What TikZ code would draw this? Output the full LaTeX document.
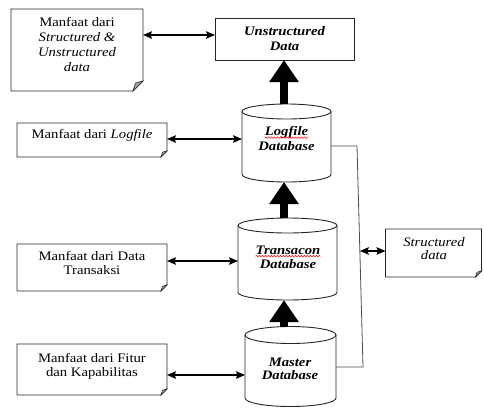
\documentclass[tikz,border=0pt]{standalone}
\usepackage{fontspec}
\setmainfont{Liberation Serif}[FakeStretch=1.13]
\usetikzlibrary{arrows.meta,calc,decorations.pathmorphing}

\tikzset{
  frame/.style={draw=none, inner sep=0pt, outer sep=0pt},
  outline/.style={draw=black!85, line width=0.9pt},
  txt/.style={font=\fontsize{13}{14}\selectfont, align=center, inner sep=0pt},
  dbtxt/.style={font=\fontsize{13}{15}\selectfont\bfseries\itshape, inner sep=0pt},
  link/.style={line width=1.3pt, {Stealth[length=9pt,width=7.5pt,inset=1.5pt]}-{Stealth[length=9pt,width=7.5pt,inset=1.5pt]}},
  bigarrow/.style={line width=8pt, -{Triangle[length=22pt,width=28pt]}},
  spell/.style={red, line width=0.5pt, decorate, decoration={snake, amplitude=0.8pt, segment length=3pt}},
  feeder/.style={draw=black!70, line width=0.8pt}
}

\newcommand\cylout[3]{%
  \draw[outline] ($(#1.north)+(0,#3)$) ellipse [x radius=#2pt, y radius=#3pt];
  \draw[outline] ($(#1.north west)+(0,#3)$) -- ($(#1.south west)+(0,-#3)$)
     arc[start angle=180, end angle=360, x radius=#2pt, y radius=#3pt]
     -- ($(#1.north east)+(0,#3)$);
}
\newcommand\foldout[2]{%
  \draw[outline] (#1.north west) -- (#1.north east) -- ($(#1.south east)+(0,-#2)$)
     -- ($(#1.south east)+(-#2,0)$) -- (#1.south west) -- cycle;
  \filldraw[fill=gray!70, draw=black!85, line width=0.6pt] ($(#1.south east)+(0,-#2)$)
     -- ($(#1.south east)+(-#2,0)$) -- ($(#1.south east)+(-0.75*#2,-0.8*#2)$) -- cycle;
}

\begin{document}
\begin{tikzpicture}[x=1pt,y=-1pt]
\useasboundingbox (0,0) rectangle (484,408);

% ---------- frames ----------
\node[frame, minimum width=132pt, minimum height=82pt] (nA) at (77,50) {};
\node[frame, minimum width=150pt, minimum height=34pt] (nB) at (92,140) {};
\node[frame, minimum width=150pt, minimum height=47pt] (nC) at (92,267.5) {};
\node[frame, minimum width=150pt, minimum height=51pt] (nD) at (92,369.5) {};
\node[frame, minimum width=139pt, minimum height=42pt] (un) at (284.5,39) {};
\node[frame, minimum width=96pt, minimum height=48pt] (st) at (433.5,253) {};

\node[frame, minimum width=89pt, minimum height=78pt] (lg) at (286.5,143) {};
\node[frame, minimum width=99pt, minimum height=82pt] (tr) at (287.5,259) {};
\node[frame, minimum width=91pt, minimum height=80pt] (ms) at (290.5,366.5) {};

% ---------- outlines ----------
\foldout{nA}{10}
\foldout{nB}{6}
\foldout{nC}{6}
\foldout{nD}{6}
\foldout{st}{6}
\draw[outline] (un.north west) rectangle (un.south east);
\cylout{lg}{44.5}{7.5}
\cylout{tr}{49.5}{7.5}
\cylout{ms}{45.5}{8.5}

% ---------- texts ----------
\node[txt, font=\fontsize{13}{15}\selectfont, anchor=north] (nAt) at (77,17.5)
  {Manfaat dari\\\textit{Structured \&}\\\textit{Unstructured}\\\textit{data}};
\node[txt, anchor=north] (nBt) at (92,129.5) {Manfaat dari \textit{Logfile}};
\node[txt, anchor=north] (nCt) at (92,251.5) {Manfaat dari Data\\Transaksi};
\node[txt, anchor=north] (nDt) at (92,353.5) {Manfaat dari Fitur\\dan Kapabilitas};
\node[txt, font=\fontsize{13}{15}\selectfont\bfseries\itshape, anchor=north] (unt) at (284.5,26.5)
  {Unstructured\\Data};
\node[txt, font=\fontsize{13}{13}\selectfont\itshape, anchor=north] (stt) at (434,237.5)
  {Structured\\data};

\node[dbtxt, anchor=base] (lgw) at (286.5,135.5) {Logfile};
\node[dbtxt, anchor=base] (lgd) at (286.5,150.5) {Database};
\node[dbtxt, anchor=base] (trw) at (288,254) {Transacon};
\node[dbtxt, anchor=base] (trd) at (288,268.5) {Database};
\node[dbtxt, anchor=base] (msw) at (290,366) {Master};
\node[dbtxt, anchor=base] (msd) at (290,379) {Database};

\draw[spell] ($(lgw.base west)+(0,2.2)$) -- ($(lgw.base east)+(0,2.2)$);
\draw[spell] ($(trw.base west)+(0,2.2)$) -- ($(trw.base east)+(0,2.2)$);

% ---------- connectors ----------
\coordinate (yA) at (0,35);
\coordinate (yB) at (0,139);
\coordinate (yC) at (0,261);
\coordinate (yD) at (0,375);
\coordinate (ax) at (284,0);

\draw[link] (nA.east |- yA) -- (un.west |- yA);
\draw[link] (nB.east |- yB) -- (lg.west |- yB);
\draw[link] (nC.east |- yC) -- (tr.west |- yC);
\draw[link] (nD.east |- yD) -- (ms.west |- yD);

\draw[bigarrow] (ax |- lg.north) -- (ax |- un.south);
\draw[bigarrow] (ax |- tr.north) -- (ax |- lg.south);
\draw[bigarrow] (ax |- ms.north) -- (ax |- tr.south);

\coordinate (j1) at (357,146);
\coordinate (j2) at (363,367);
\coordinate (jS) at ($(j1)!0.475!(j2)$);
\draw[feeder] (lg.east |- j1) -- (j1) -- (j2) -- (ms.east |- j2);
\draw[link] (jS) -- (st.west |- jS);
\end{tikzpicture}
\end{document}
